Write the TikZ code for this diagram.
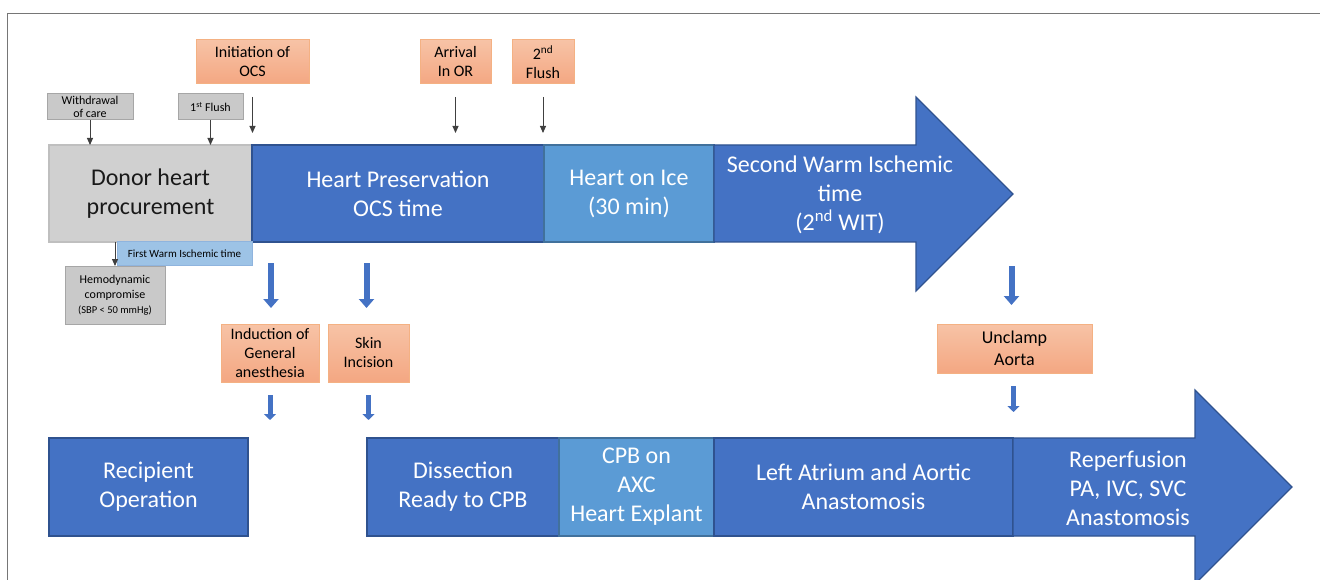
\documentclass[tikz,border=0pt]{standalone}
\usepackage{fontspec}
\setmainfont{Carlito}
\usetikzlibrary{arrows.meta,positioning,calc}
\definecolor{stageblue}{HTML}{4472C4}
\definecolor{stageline}{HTML}{2F528F}
\definecolor{iceblue}{HTML}{5B9BD5}
\definecolor{iceline}{HTML}{41719C}
\definecolor{donorgray}{HTML}{D0D0D0}
\definecolor{donorline}{HTML}{BFBFBF}
\definecolor{notegray}{HTML}{C9C9C9}
\definecolor{noteline}{HTML}{A6A6A6}
\definecolor{fwitblue}{HTML}{9DC3E6}
\definecolor{fwitline}{HTML}{8FB4DE}
\definecolor{eventtop}{HTML}{F7C3A6}
\definecolor{eventbot}{HTML}{F4A782}
\definecolor{eventline}{HTML}{F4B183}
\definecolor{framegray}{HTML}{767676}
\newcommand{\stagefont}{\fontsize{24}{29}\selectfont}
\newcommand{\eventfont}{\fontsize{16}{19}\selectfont}
\newcommand{\unclampfont}{\fontsize{18}{22}\selectfont}
\newcommand{\smallnotefont}{\fontsize{12}{13}\selectfont}
\newcommand{\hemofont}{\fontsize{12}{15}\selectfont}
\newcommand{\sbpfont}{\fontsize{10.5}{12}\selectfont}
\tikzset{
  stagebox/.style={draw=stageline,fill=stageblue,text=white,align=center,
    inner sep=2pt,outer sep=0pt,font=\stagefont,line width=1.2pt},
  icebox/.style={stagebox,draw=iceline,fill=iceblue},
  donorbox/.style={stagebox,draw=donorline,fill=donorgray,text=black!90},
  arrowshape/.style={draw=stageline,fill=stageblue,line width=1.2pt},
  stagetext/.style={text=white,align=center,font=\stagefont,inner sep=0pt},
  eventbox/.style={draw=eventline,top color=eventtop,bottom color=eventbot,
    align=center,inner sep=1pt,outer sep=0pt,font=\eventfont,line width=1pt},
  notebox/.style={draw=noteline,fill=notegray,align=center,inner sep=1pt,
    outer sep=0pt,font=\smallnotefont,line width=1pt},
  fwitbox/.style={notebox,draw=fwitline,fill=fwitblue,font=\fontsize{11}{13}\selectfont},
  tickarrow/.style={-{Triangle[width=6pt,length=7pt]},line width=0.9pt,draw=black!75},
  bluearrow/.style={-{Triangle[width=15pt,length=9pt]},line width=6pt,draw=stageblue},
  smallbluearrow/.style={-{Triangle[width=12pt,length=6pt]},line width=5pt,draw=stageblue},
  framerule/.style={draw=framegray,line width=1.5pt}
}
\begin{document}
\begin{tikzpicture}[x=1pt,y=-1pt]
\clip (0,0) rectangle (1320,580);
\draw[framerule] (7.5,580) -- (7.5,13.5) -- (1320,13.5);

% donor side
\node[donorbox,anchor=north west,minimum width=203pt,minimum height=97pt] (donor) at (49,145) {Donor heart\\procurement};
\node[stagebox,right=0pt of donor,minimum width=292pt,minimum height=97pt] (pres) {Heart Preservation\\OCS time};
\node[icebox,right=0pt of pres,minimum width=170pt,minimum height=97pt] (ice) {Heart on Ice\\(30 min)};
\draw[arrowshape] (ice.north east) -- (916,145) -- (916,97) -- (1013,194) -- (916,291) -- (916,242) -- (ice.south east) -- cycle;
\node[stagetext] (wit) at (840,195) {Second Warm Ischemic\\time\\(2\textsuperscript{nd} WIT)};

\node[notebox,minimum width=86pt,minimum height=26pt] (withdraw) at (90,107) {Withdrawal\\of care};
\node[notebox,minimum width=65pt,minimum height=26pt] (flush1) at (210.5,107) {1\textsuperscript{st} Flush};
\node[eventbox,minimum width=113pt,minimum height=44pt] (ocs) at (252.5,62) {Initiation of\\OCS};
\node[eventbox,minimum width=71pt,minimum height=44pt] (arrival) at (455.5,62) {Arrival\\In OR};
\node[eventbox,minimum width=62pt,minimum height=44pt] (flush2) at (543,62) {2\textsuperscript{nd}\\Flush};
\node[fwitbox,anchor=north west,minimum width=135pt,minimum height=23pt] (fwit) at (117,242) {First Warm Ischemic time};
\node[notebox,font=\hemofont,minimum width=100pt,minimum height=58pt] (hemo) at (115,295) {Hemodynamic\\compromise\\{\sbpfont (SBP < 50 mmHg)}};

\draw[tickarrow] (withdraw.south) -- (withdraw.south |- donor.north);
\draw[tickarrow] (flush1.south) -- (flush1.south |- donor.north);
\draw[tickarrow] ($(ocs.south)+(0,13)$) -- ($(ocs.south |- pres.north)+(0,-12)$);
\draw[tickarrow] ($(arrival.south)+(0,13)$) -- ($(arrival.south |- pres.north)+(0,-12)$);
\draw[tickarrow] ($(flush2.south)+(0,13)$) -- ($(flush2.south |- ice.north)+(0,-12)$);
\draw[tickarrow] (hemo.north |- donor.south) -- (hemo.north);

% recipient side
\node[eventbox,minimum width=98pt,minimum height=58pt] (induction) at (270,353) {Induction of\\General\\anesthesia};
\node[eventbox,minimum width=81pt,minimum height=58pt] (skin) at (368.5,353) {Skin\\Incision};
\node[eventbox,font=\unclampfont,minimum width=155pt,minimum height=49pt] (unclamp) at (1014.5,348.5) {Unclamp\\Aorta};

\node[stagebox,anchor=north west,minimum width=199pt,minimum height=98pt] (recipient) at (49,438) {Recipient\\Operation};
\node[stagebox,anchor=north west,minimum width=192pt,minimum height=98pt] (dissect) at (367,438) {Dissection\\Ready to CPB};
\node[icebox,right=0pt of dissect,minimum width=155pt,minimum height=98pt] (cpb) {CPB on\\AXC\\Heart Explant};
\node[stagebox,right=0pt of cpb,minimum width=299pt,minimum height=98pt] (atrium) {Left Atrium and Aortic\\Anastomosis};
\draw[arrowshape] (atrium.north east) -- (1195,438) -- (1195,390) -- (1292,487) -- (1195,584) -- (1195,536) -- (atrium.south east) -- cycle;
\node[stagetext] (reperf) at (1128,488) {Reperfusion\\PA, IVC, SVC\\Anastomosis};

\draw[bluearrow] ($(induction.north)+(1,-61)$) -- ($(induction.north)+(1,-16)$);
\draw[bluearrow] ($(skin.north)+(-2,-61)$) -- ($(skin.north)+(-2,-16)$);
\draw[smallbluearrow] ($(induction.south)+(0,13)$) -- ($(induction.south)+(0,38)$);
\draw[smallbluearrow] ($(skin.south)+(0,13)$) -- ($(skin.south)+(0,38)$);
\draw[bluearrow] ($(unclamp.north)+(-3,-58)$) -- ($(unclamp.north)+(-3,-19)$);
\draw[smallbluearrow] ($(unclamp.south)+(-1,13)$) -- ($(unclamp.south)+(-1,39)$);
\end{tikzpicture}
\end{document}
